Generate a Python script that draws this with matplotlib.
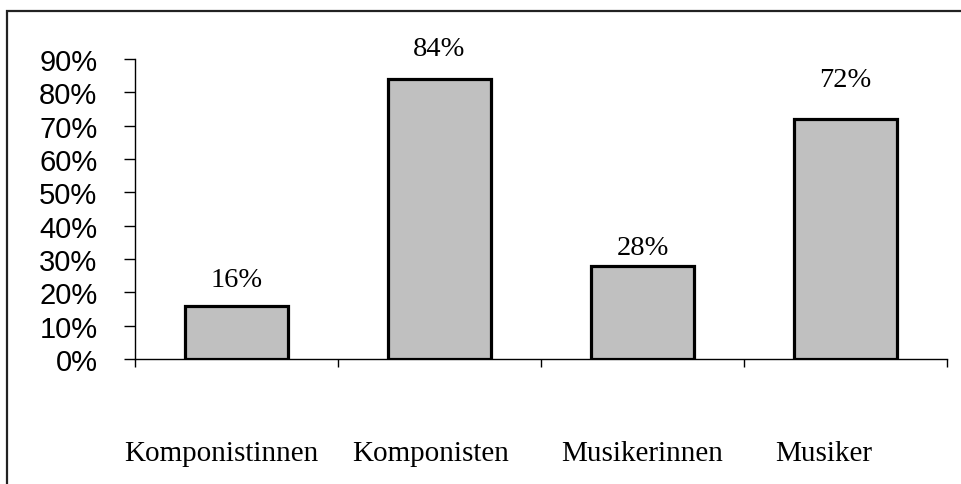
import matplotlib
matplotlib.use("Agg")
import matplotlib.pyplot as plt
from matplotlib.patches import Rectangle
from matplotlib.ticker import FixedLocator, PercentFormatter
from matplotlib.transforms import ScaledTranslation

categories = ["Komponistinnen", "Komponisten", "Musikerinnen", "Musiker"]
values = [16, 84, 28, 72]
value_labels = ["16%", "84%", "28%", "72%"]
y_ticks = [0, 10, 20, 30, 40, 50, 60, 70, 80, 90]
label_offsets_pt = [14.4, 17.3, 8.6, 23.8]
category_label_shift_pt = [-11, -6.5, 0, -16]

fig = plt.figure(figsize=(9.61, 4.85), dpi=100)
ax = fig.add_axes([135 / 961, 125 / 485, 812 / 961, 300 / 485])

x = list(range(len(categories)))
ax.bar(x, values, width=0.505, color="#C0C0C0", edgecolor="black", linewidth=2.3, zorder=3)

ax.set_xlim(-0.5, len(categories) - 0.5)
ax.set_ylim(0, 90)

for s in ["top", "right"]:
    ax.spines[s].set_visible(False)
for s in ["left", "bottom"]:
    ax.spines[s].set_linewidth(1.0)

ax.set_yticks(y_ticks)
ax.yaxis.set_major_formatter(PercentFormatter(decimals=0))
ax.tick_params(axis="y", direction="out", length=8, width=1, labelsize=21, pad=19)
for lab in ax.get_yticklabels():
    lab.set_family("Liberation Sans")

ax.set_xticks(x)
ax.set_xticklabels(categories, family="Liberation Serif", fontsize=21)
ax.tick_params(axis="x", which="major", length=0, pad=58)
for lab, dx in zip(ax.get_xticklabels(), category_label_shift_pt):
    lab.set_transform(lab.get_transform() + ScaledTranslation(dx / 72, 0, fig.dpi_scale_trans))
ax.xaxis.set_minor_locator(FixedLocator([i - 0.5 for i in range(len(categories) + 1)]))
ax.tick_params(axis="x", which="minor", direction="out", length=6, width=1)

for xi, v, lab, off in zip(x, values, value_labels, label_offsets_pt):
    ax.annotate(lab, (xi, v), xytext=(0, off), textcoords="offset points",
                ha="center", va="baseline", family="Liberation Serif", fontsize=20.5)

border = Rectangle((7 / 961, -0.2), 1.2, 1 - 12 / 485 + 0.2, transform=fig.transFigure,
                   fill=False, edgecolor="#222222", linewidth=1.6, clip_on=False)
fig.patches.append(border)

fig.savefig("out.png", dpi=100)
